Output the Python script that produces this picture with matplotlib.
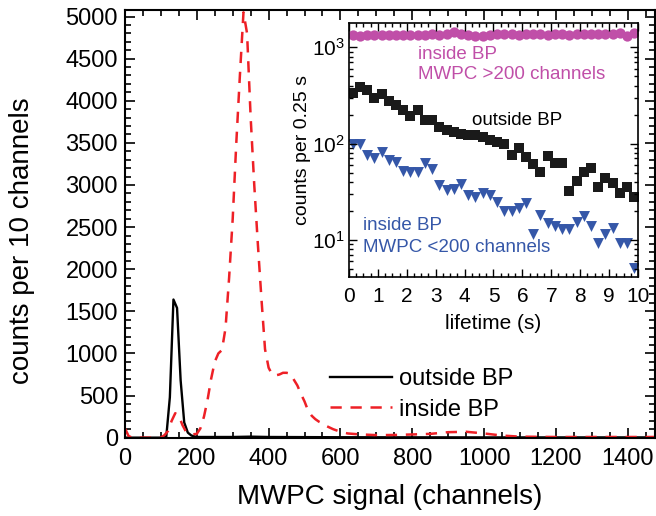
import numpy as np
import matplotlib
matplotlib.use("Agg")
import matplotlib.pyplot as plt
from matplotlib.ticker import MultipleLocator, LogLocator, NullFormatter

plt.rcParams["font.family"] = ["Liberation Sans", "DejaVu Sans"]

# ── main histogram: MWPC signal ──────────────────────────────────────────────
red_ch = [0, 10, 20, 100, 110, 120, 130, 140, 150, 160, 170, 180, 190, 200,
          210, 220, 230, 240, 250, 260, 270, 280, 290, 300, 310, 320, 330,
          340, 350, 360, 370, 380, 390, 400, 410, 420, 430, 440, 450, 460,
          470, 480, 490, 500, 510, 520, 530, 540, 550, 560, 580, 600, 620,
          650, 700, 750, 800, 850, 900, 950, 1000, 1050, 1100, 1150, 1200,
          1250, 1300, 1350, 1400, 1450, 1475]
red_counts = [110, 20, 0, 0, 30, 80, 200, 290, 260, 150, 70, 45, 40, 45,
              110, 250, 450, 700, 900, 1000, 1040, 1300, 1900, 2600, 3500,
              4300, 5050, 4800, 3800, 3000, 2300, 1650, 1050, 830, 750, 740,
              750, 770, 770, 760, 690, 620, 520, 430, 320, 260, 220, 190, 170,
              140, 100, 70, 50, 40, 30, 32, 38, 45, 65, 70, 50, 25, 12, 10, 8,
              8, 8, 8, 8, 8, 8]

blk_ch = [0, 100, 115, 125, 135, 145, 155, 165, 175, 185, 200, 300, 350,
          400, 600, 800, 1000, 1200, 1475]
blk_counts = [0, 0, 10, 480, 1640, 1540, 680, 180, 60, 25, 8, 8, 12, 8, 5,
              4, 3, 3, 3]

# ── inset: lifetime, 0.25 s bins ─────────────────────────────────────────────
t_bins = np.arange(40) * 0.25 + 0.125
mag_counts = [1340, 1320, 1350, 1330, 1340, 1350, 1330, 1350, 1340, 1350,
              1340, 1360, 1350, 1380, 1430, 1370, 1340, 1310, 1300, 1350,
              1360, 1370, 1380, 1350, 1360, 1370, 1370, 1350, 1360, 1370,
              1350, 1360, 1370, 1380, 1360, 1370, 1380, 1420, 1320, 1400]
out_counts = [334, 386, 356, 299, 329, 274, 249, 225, 193, 221,
              177, 177, 149, 140, 132, 127, 124, 122, 117, 110,
              104, 100, 76, 91, 72, 62, 51, 75, 63, 63,
              32, 41, 51, 56, 35, 44, 39, 31, 35, 28]
low_counts = [98, 100, 76, 71, 81, 68, 65, 52, 51, 51,
              63, 54, 37, 33, 34, 38, 29, 28, 31, 29,
              25, 20, 20, 21.5, 24, 11.4, 18, 15, 14, 13,
              13, 15.4, 17.6, 14, 9.2, 11.4, 13.3, 9.2, 9.2, 5.1]

RED = "#ee2026"
MAG = "#c04fa8"
BLUE = "#3557a8"

fig = plt.figure(figsize=(6.56, 5.16), dpi=100)
ax = fig.add_axes([0.1905, 0.151, 0.8075, 0.830])

ax.plot(blk_ch, blk_counts, color="black", lw=1.7, label="outside BP")
ax.plot(red_ch, red_counts, color=RED, lw=1.8, ls=(0, (4.5, 3.5)), label="inside BP")

ax.set_xlim(0, 1475)
ax.set_ylim(-5, 5080)
ax.xaxis.set_major_locator(MultipleLocator(200))
ax.xaxis.set_minor_locator(MultipleLocator(50))
ax.yaxis.set_major_locator(MultipleLocator(500))
ax.yaxis.set_minor_locator(MultipleLocator(100))
ax.tick_params(which="both", direction="in", top=True, right=True,
               labelsize=17, width=1.2)
ax.tick_params(which="major", length=7)
ax.tick_params(which="minor", length=4)
ax.tick_params(axis="x", pad=7)
ax.tick_params(axis="y", pad=5)
for s in ax.spines.values():
    s.set_linewidth(1.5)

ax.set_xlabel("MWPC signal (channels)", fontsize=20, labelpad=10)
ax.set_ylabel("counts per 10 channels", fontsize=20)
ax.yaxis.set_label_coords(-0.17, 0.46)

ax.legend(loc="upper left", bbox_to_anchor=(0.37, 0.185), frameon=False,
          fontsize=17, handlelength=2.6, handletextpad=0.3,
          labelspacing=0.35, borderaxespad=0)

# ── inset ────────────────────────────────────────────────────────────────────
ins = fig.add_axes([0.532, 0.463, 0.4405, 0.492])
ins.set_yscale("log")
ins.scatter(t_bins, mag_counts, marker="o", s=55, color=MAG, lw=0)
ins.scatter(t_bins, out_counts, marker="s", s=52, color="#1a1a1a", lw=0)
ins.scatter(t_bins, low_counts, marker="v", s=62, color=BLUE, lw=0)

ins.set_xlim(0, 10)
ins.set_ylim(4.1, 1780)
ins.xaxis.set_major_locator(MultipleLocator(1))
ins.xaxis.set_minor_locator(MultipleLocator(0.25))
ins.yaxis.set_major_locator(LogLocator(base=10, numticks=10))
ins.yaxis.set_minor_locator(LogLocator(base=10, subs=np.arange(2, 10), numticks=10))
ins.yaxis.set_minor_formatter(NullFormatter())
ins.tick_params(which="both", direction="in", top=True, right=True,
                labelsize=15, width=1.0)
ins.tick_params(which="major", length=6)
ins.tick_params(which="minor", length=3)
ins.tick_params(axis="x", pad=7)
ins.tick_params(axis="y", pad=3)
for s in ins.spines.values():
    s.set_linewidth(1.2)

ins.set_xlabel("lifetime (s)", fontsize=15, labelpad=6)
ins.set_ylabel("counts per 0.25 s", fontsize=14, labelpad=1)

ins.text(0.24, 0.86, "inside BP", color=MAG, fontsize=13.5, transform=ins.transAxes)
ins.text(0.24, 0.78, "MWPC >200 channels", color=MAG, fontsize=13.5,
         transform=ins.transAxes)
ins.text(0.425, 0.60, "outside BP", color="black", fontsize=13.5,
         transform=ins.transAxes)
ins.text(0.05, 0.185, "inside BP", color=BLUE, fontsize=13.5, transform=ins.transAxes)
ins.text(0.05, 0.10, "MWPC <200 channels", color=BLUE, fontsize=13.5,
         transform=ins.transAxes)

fig.savefig("out.png", dpi=100)
